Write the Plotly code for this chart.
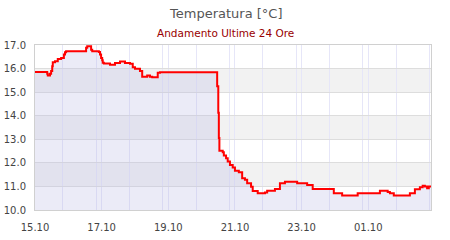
import plotly.graph_objects as go

day1 = "2024-10-15 "
day2 = "2024-10-16 "

times_day1 = ["15:10", "15:30", "15:32", "15:33", "15:37", "15:39", "15:41", "15:42", "15:46", "15:51",
              "15:57", "16:02", "16:04", "16:06", "16:42", "16:44", "16:51", "16:53", "17:05", "17:07",
              "17:09", "17:11", "17:12", "17:14", "17:25", "17:34", "17:43", "17:52", "18:01", "18:06",
              "18:10", "18:19", "18:23", "18:32", "18:37", "18:41", "18:51", "18:55", "20:38", "20:40",
              "20:41", "20:42", "20:48", "20:50", "20:54", "20:57", "21:01", "21:06", "21:10", "21:17",
              "21:23", "21:28", "21:32", "21:39", "21:42", "21:51", "22:04", "22:08", "22:22", "22:31",
              "22:40", "23:02", "23:20", "23:30"]
times_day2 = ["00:08", "00:23", "00:51", "01:31", "01:45", "01:49", "01:56", "02:25", "02:34", "02:43",
              "02:48", "02:52", "02:56", "02:59", "03:03"]

temps = [15.85, 15.85, 15.78, 15.71, 15.78, 15.90, 16.10, 16.27, 16.31, 16.41,
         16.45, 16.60, 16.69, 16.74, 16.88, 16.95, 16.80, 16.74, 16.70, 16.60,
         16.45, 16.35, 16.25, 16.21, 16.16, 16.24, 16.30, 16.24, 16.20, 16.06,
         15.99, 15.90, 15.65, 15.71, 15.65, 15.63, 15.82, 15.84, 15.25, 14.13,
         13.05, 12.51, 12.45, 12.31, 12.20, 12.06, 11.91, 11.80, 11.66, 11.60,
         11.35, 11.28, 11.14, 10.99, 10.81, 10.71, 10.74, 10.82, 10.89, 11.13,
         11.20, 11.13, 11.06, 10.89,
         10.71, 10.61, 10.71, 10.82, 10.76, 10.71, 10.61, 10.71, 10.88, 10.97,
         11.03, 11.00, 10.92, 11.00, 11.00]

times = [day1 + t for t in times_day1] + [day2 + t for t in times_day2]

y_ticks = [10, 11, 12, 13, 14, 15, 16, 17]
y_labels = ["10.0", "11.0", "12.0", "13.0", "14.0", "15.0", "16.0", "17.0"]
gray_bands = [(11, 12), (13, 14), (15, 16)]

title_text = "Temperatura [°C]"
subtitle_text = "Andamento Ultime 24 Ore"

FONT = "DejaVu Sans"

fig = go.Figure()
fig.add_trace(go.Scatter(
    x=times, y=temps, mode="lines", line=dict(color="#ff0000", width=2, shape="hv"),
    fill="tozeroy", fillcolor="rgba(190,190,228,0.30)", hoverinfo="skip", showlegend=False,
))

shapes = [dict(type="rect", xref="paper", x0=0, x1=1, yref="y", y0=a, y1=b,
               fillcolor="#f2f2f2", line=dict(width=0), layer="below") for a, b in gray_bands]

fig.update_layout(
    width=450, height=240,
    margin=dict(l=35, r=19, t=45, b=30),
    paper_bgcolor="white", plot_bgcolor="white",
    font=dict(family=FONT, size=10, color="#444444"),
    shapes=shapes,
    annotations=[
        dict(text=title_text, xref="paper", yref="paper", x=(225 - 35) / 396, y=(210 - 13) / 165,
             xanchor="center", yanchor="middle", showarrow=False,
             font=dict(family=FONT, size=13, color="#555555")),
        dict(text=subtitle_text, xref="paper", yref="paper", x=(225 - 35) / 396, y=(210 - 33) / 165,
             xanchor="center", yanchor="middle", showarrow=False,
             font=dict(family=FONT, size=10.5, color="#990000")),
    ],
    xaxis=dict(
        type="date", range=[day1 + "15:10", day2 + "03:03"],
        tick0=day1 + "15:10", dtick=7200000, tickformat="%H.%M",
        showgrid=True, gridcolor="#e6e6f8", gridwidth=1,
        minor=dict(dtick=3600000, showgrid=True, gridcolor="#e6e6f8", gridwidth=1),
        showline=True, linecolor="#d0d0d0", linewidth=1, mirror=True,
        ticks="outside", ticklen=8, tickcolor="rgba(0,0,0,0)",
        tickfont=dict(family=FONT, size=10, color="#444444"), zeroline=False,
        automargin=False,
    ),
    yaxis=dict(
        range=[10, 17], tickvals=y_ticks, ticktext=y_labels,
        showgrid=True, gridcolor="#dddddd", gridwidth=1,
        showline=True, linecolor="#d0d0d0", linewidth=1, mirror=True,
        ticks="outside", ticklen=6, tickcolor="rgba(0,0,0,0)",
        tickfont=dict(family=FONT, size=10, color="#444444"), zeroline=False,
        automargin=False,
    ),
)

fig.write_html("out.html")
